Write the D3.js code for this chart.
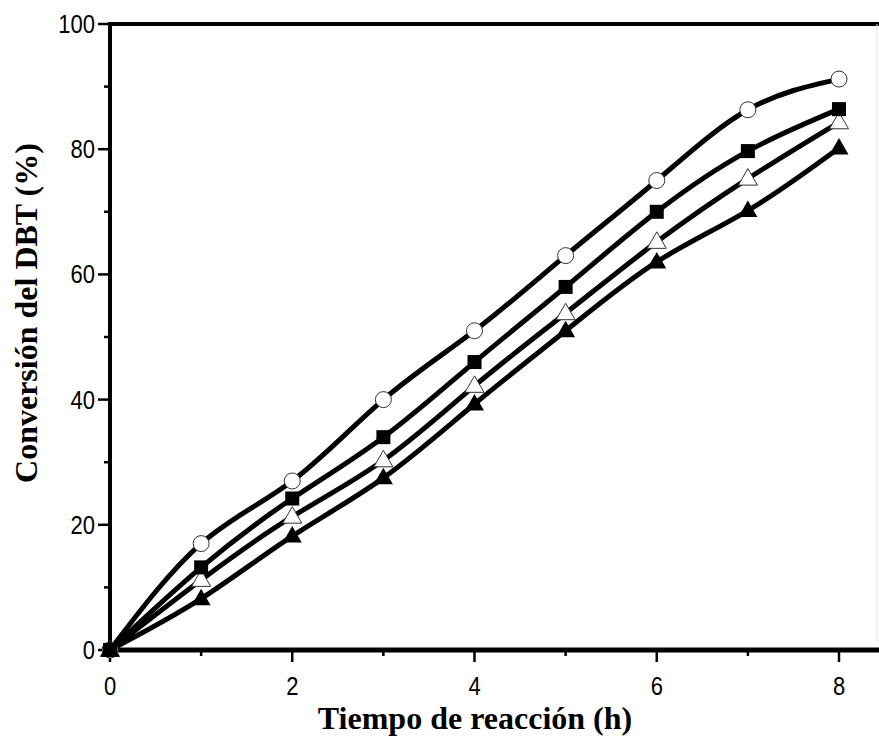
<!DOCTYPE html>
<html><head><meta charset="utf-8">
<script src="https://cdn.jsdelivr.net/npm/d3@7"></script>
<style>body{margin:0;background:#fff}svg{display:block}</style>
</head><body>
<script>
const hours = [0,1,2,3,4,5,6,7,8];
const seriesCircle   = [0,17,27,40,51,63,75,86.3,91.2];
const seriesSquare   = [0,13.2,24.2,34,46,58,70,79.7,86.4];
const seriesOpenTri  = [0,11.2,21.3,30.3,42.2,53.8,65.2,75.3,84.3];
const seriesFillTri  = [0,8.2,18.2,27.5,39.3,51,62,70.2,80.2];
const xTicks = [0,2,4,6,8];
const xMinor = [1,3,5,7];
const yTicks = [0,20,40,60,80,100];
const yMinor = [10,30,50,70,90];

const W=879,H=738;
const svg=d3.select("body").append("svg").attr("width",W).attr("height",H);
const x=d3.scaleLinear().domain([0,8]).range([110,839]);
const y=d3.scaleLinear().domain([0,100]).range([650,24]);
const xEnd=879;

// frame
svg.append("line").attr("x1",110).attr("x2",xEnd).attr("y1",y(100)).attr("y2",y(100)).attr("stroke","#000").attr("stroke-width",4);
svg.append("line").attr("x1",877).attr("x2",877).attr("y1",y(100)).attr("y2",y(0)-8).attr("stroke","#e4e4e4").attr("stroke-width",1);
svg.append("line").attr("x1",110).attr("x2",110).attr("y1",y(100)-2).attr("y2",y(0)+2).attr("stroke","#000").attr("stroke-width",4);
svg.append("line").attr("x1",108).attr("x2",xEnd).attr("y1",y(0)).attr("y2",y(0)).attr("stroke","#000").attr("stroke-width",5);

// ticks
const font="'Liberation Sans', Arial, sans-serif";
yTicks.forEach(v=>{
  svg.append("line").attr("x1",98).attr("x2",110).attr("y1",y(v)).attr("y2",y(v)).attr("stroke","#000").attr("stroke-width",2.5);
  svg.append("text").attr("transform",`translate(95,${y(v)}) scale(0.88,1)`).attr("dy","0.36em").attr("text-anchor","end")
    .attr("font-family",font).attr("font-size",25).text(v);
});
yMinor.forEach(v=>{
  svg.append("line").attr("x1",104).attr("x2",110).attr("y1",y(v)).attr("y2",y(v)).attr("stroke","#000").attr("stroke-width",2.5);
});
xTicks.forEach(v=>{
  svg.append("line").attr("x1",x(v)).attr("x2",x(v)).attr("y1",650).attr("y2",662).attr("stroke","#000").attr("stroke-width",2.5);
  svg.append("text").attr("transform",`translate(${x(v)},695) scale(0.88,1)`).attr("text-anchor","middle")
    .attr("font-family",font).attr("font-size",25).text(v);
});
xMinor.forEach(v=>{
  svg.append("line").attr("x1",x(v)).attr("x2",x(v)).attr("y1",650).attr("y2",656).attr("stroke","#000").attr("stroke-width",2.5);
});

// titles
const tfont="'Liberation Serif','Times New Roman',serif";
svg.append("text").attr("x",475).attr("y",729).attr("text-anchor","middle")
  .attr("font-family",tfont).attr("font-weight","bold").attr("font-size",32).text("Tiempo de reacción (h)");
svg.append("text").attr("transform","translate(37,313) rotate(-90)").attr("text-anchor","middle")
  .attr("font-family",tfont).attr("font-weight","bold").attr("font-size",32).text("Conversión del DBT (%)");

// lines
const line=d3.line().x((d,i)=>x(hours[i])).y(d=>y(d)).curve(d3.curveNatural);
const all=[seriesCircle,seriesSquare,seriesOpenTri,seriesFillTri];
all.forEach(s=>{
  svg.append("path").attr("d",line(s)).attr("fill","none").attr("stroke","#000").attr("stroke-width",5);
});

// markers
const g=svg.append("g");
g.selectAll(".ci").data(seriesCircle).join("circle")
  .attr("cx",(d,i)=>x(hours[i])).attr("cy",d=>y(d)).attr("r",8).attr("fill","#fff").attr("stroke","#333").attr("stroke-width",1);
g.selectAll(".oTri").data(seriesOpenTri).join("path")
  .attr("transform",(d,i)=>`translate(${x(hours[i])},${y(d)})`)
  .attr("d","M0,-10L9.5,6.5L-9.5,6.5Z").attr("fill","#fff").attr("stroke","#333").attr("stroke-width",1);
g.selectAll(".sq").data(seriesSquare).join("rect")
  .attr("x",(d,i)=>x(hours[i])-7).attr("y",d=>y(d)-7).attr("width",14).attr("height",14).attr("fill","#000");
g.selectAll(".fTri").data(seriesFillTri).join("path")
  .attr("transform",(d,i)=>`translate(${x(hours[i])},${y(d)})`)
  .attr("d","M0,-10L9.5,6.5L-9.5,6.5Z").attr("fill","#000");
</script>
</body></html>
